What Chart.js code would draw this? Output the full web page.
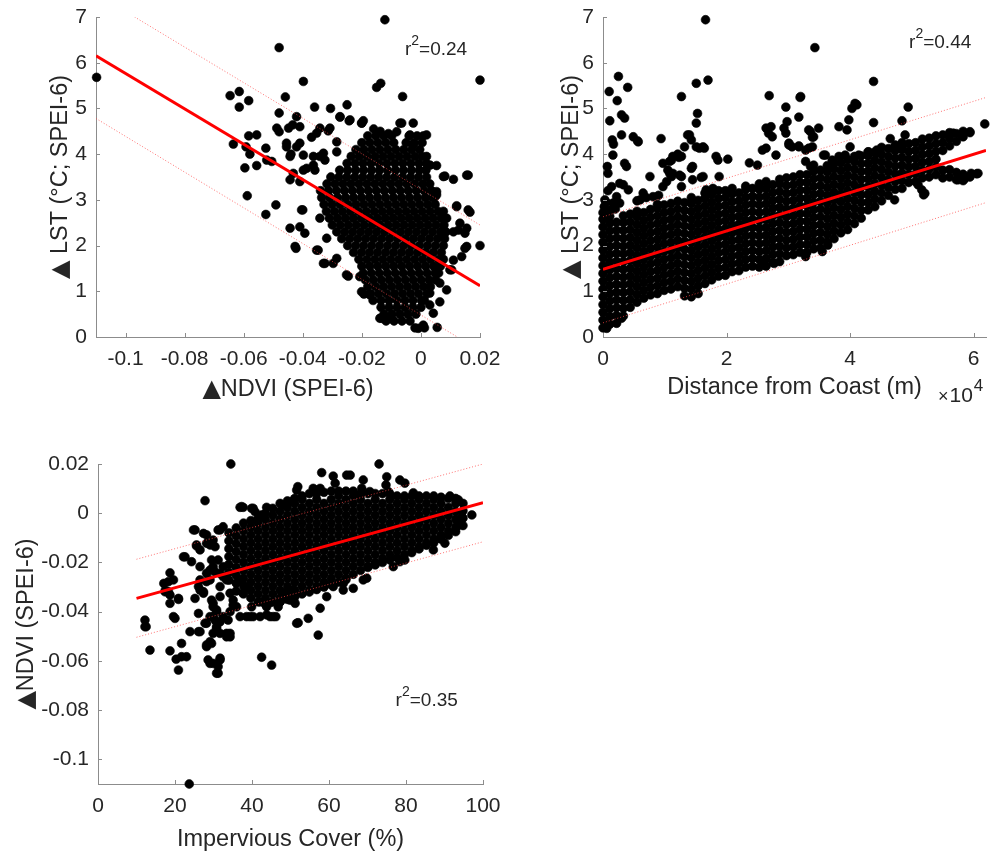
<!DOCTYPE html>
<html>
<head>
<meta charset="utf-8">
<script src="https://cdn.jsdelivr.net/npm/chart.js@4.4.1/dist/chart.umd.min.js"></script>
<style>
html,body{margin:0;padding:0;background:#fff;}
body{width:991px;height:854px;position:relative;overflow:hidden;}
canvas{position:absolute;}
</style>
</head>
<body>
<canvas id="c1" width="500" height="420" style="left:0;top:0;width:500px;height:420px"></canvas>
<canvas id="c2" width="491" height="420" style="left:500px;top:0;width:491px;height:420px"></canvas>
<canvas id="c3" width="500" height="434" style="left:0;top:420px;width:500px;height:434px"></canvas>
<script>
// ---------------- DATA ----------------
// Tick labels
const ndviTicks = [-0.1, -0.08, -0.06, -0.04, -0.02, 0, 0.02];
const lstTicks = [0, 1, 2, 3, 4, 5, 6, 7];
const distanceTicks = [0, 2, 4, 6];            // x 10^4 m
const imperviousTicks = [0, 20, 40, 60, 80, 100];

// Panel 1: ΔNDVI (x) vs ΔLST (y). Dense core as rows: [ΔLST, ΔNDVI, ΔNDVI, ...]
const lstNdviRows = [
[0.20, -0.0020, 0.0012],
[0.35, -0.0118,-0.0091,-0.0064,-0.0037],
[0.50, -0.0125,-0.0098,-0.0071,-0.0044,-0.0017],
[0.65, -0.0135,-0.0108,-0.0081,-0.0054,-0.0027,0.0000],
[0.80, -0.0162,-0.0135,-0.0108,-0.0081,-0.0054,-0.0027,0.0002,0.0012],
[0.95, -0.0170,-0.0143,-0.0116,-0.0089,-0.0062,-0.0035,-0.0008,0.0020],
[1.10, -0.0180,-0.0153,-0.0126,-0.0099,-0.0072,-0.0045,-0.0018,0.0009,0.0032],
[1.25, -0.0188,-0.0161,-0.0134,-0.0107,-0.0080,-0.0053,-0.0026,0.0001,0.0028,0.0050],
[1.40, -0.0195,-0.0168,-0.0141,-0.0114,-0.0087,-0.0060,-0.0033,-0.0006,0.0021,0.0048,0.0060],
[1.55, -0.0200,-0.0173,-0.0146,-0.0119,-0.0092,-0.0065,-0.0038,-0.0011,0.0016,0.0043,0.0066],
[1.70, -0.0210,-0.0183,-0.0156,-0.0129,-0.0102,-0.0075,-0.0048,-0.0021,0.0006,0.0033,0.0060,0.0076],
[1.85, -0.0228,-0.0201,-0.0174,-0.0147,-0.0120,-0.0093,-0.0066,-0.0039,-0.0012,0.0015,0.0042,0.0069],
[2.00, -0.0248,-0.0221,-0.0194,-0.0167,-0.0140,-0.0113,-0.0086,-0.0059,-0.0032,-0.0005,0.0022,0.0049,0.0076],
[2.15, -0.0268,-0.0241,-0.0214,-0.0187,-0.0160,-0.0133,-0.0106,-0.0079,-0.0052,-0.0025,0.0002,0.0029,0.0056,0.0080],
[2.30, -0.0285,-0.0258,-0.0231,-0.0204,-0.0177,-0.0150,-0.0123,-0.0096,-0.0069,-0.0042,-0.0015,0.0012,0.0039,0.0066,0.0085],
[2.45, -0.0300,-0.0273,-0.0246,-0.0219,-0.0192,-0.0165,-0.0138,-0.0111,-0.0084,-0.0057,-0.0030,-0.0003,0.0024,0.0051,0.0078],
[2.60, -0.0310,-0.0283,-0.0256,-0.0229,-0.0202,-0.0175,-0.0148,-0.0121,-0.0094,-0.0067,-0.0040,-0.0013,0.0014,0.0041,0.0068],
[2.75, -0.0320,-0.0293,-0.0266,-0.0239,-0.0212,-0.0185,-0.0158,-0.0131,-0.0104,-0.0077,-0.0050,-0.0023,0.0004,0.0031,0.0058,0.0076],
[2.90, -0.0328,-0.0301,-0.0274,-0.0247,-0.0220,-0.0193,-0.0166,-0.0139,-0.0112,-0.0085,-0.0058,-0.0031,-0.0004,0.0023,0.0048],
[3.05, -0.0336,-0.0309,-0.0282,-0.0255,-0.0228,-0.0201,-0.0174,-0.0147,-0.0120,-0.0093,-0.0066,-0.0039,-0.0012,0.0015,0.0040],
[3.20, -0.0340,-0.0313,-0.0286,-0.0259,-0.0232,-0.0205,-0.0178,-0.0151,-0.0124,-0.0097,-0.0070,-0.0043,-0.0016,0.0011,0.0036],
[3.35, -0.0318,-0.0291,-0.0264,-0.0237,-0.0210,-0.0183,-0.0156,-0.0129,-0.0102,-0.0075,-0.0048,-0.0021,0.0006,0.0030],
[3.50, -0.0305,-0.0278,-0.0251,-0.0224,-0.0197,-0.0170,-0.0143,-0.0116,-0.0089,-0.0062,-0.0035,-0.0008,0.0019],
[3.65, -0.0275,-0.0248,-0.0221,-0.0194,-0.0167,-0.0140,-0.0113,-0.0086,-0.0059,-0.0032,-0.0005,0.0017],
[3.80, -0.0250,-0.0223,-0.0196,-0.0169,-0.0142,-0.0115,-0.0088,-0.0061,-0.0034,-0.0007,0.0018],
[3.95, -0.0236,-0.0209,-0.0182,-0.0155,-0.0128,-0.0101,-0.0074,-0.0047,-0.0020,0.0004],
[4.10, -0.0220,-0.0193,-0.0166,-0.0139,-0.0112,-0.0085,-0.0058,-0.0031,-0.0004],
[4.25, -0.0200,-0.0173,-0.0146,-0.0119,-0.0092,-0.0050,-0.0023,0.0004],
[4.40, -0.0180,-0.0153,-0.0126,-0.0099,-0.0040,-0.0013]
];
// Panel 1 scattered points: [ΔNDVI, ΔLST]
const lstNdviScatter = [
[-0.1098,5.68],[-0.048,6.33],[-0.0122,6.94],[0.02,5.62],[-0.0398,5.59],[-0.015,5.46],[-0.0136,5.55],[-0.0062,5.26],
[-0.0646,5.28],[-0.0615,5.37],[-0.0615,5.03],[-0.0583,5.17],[-0.0459,5.25],[-0.048,4.9],[-0.036,5.03],[-0.0306,5.0],
[-0.025,5.08],[-0.0274,4.81],[-0.0243,4.73],[-0.02,4.68],[-0.0195,4.73],[-0.0421,4.82],[-0.0434,4.64],[-0.041,4.6],
[-0.0488,4.57],[-0.048,4.49],[-0.0448,4.57],[-0.0342,4.57],[-0.0314,4.51],[-0.0071,4.68],[-0.0026,4.68],[-0.0082,4.49],
[-0.0037,4.42],[0.0008,4.4],[-0.0583,4.4],[-0.0556,4.42],[-0.0635,4.22],[-0.0592,4.16],[-0.0579,4.0],[-0.037,4.37],
[-0.0285,4.27],[-0.0455,4.24],[-0.0421,4.16],[-0.0443,3.95],[-0.044,4.0],[-0.0398,3.98],[-0.0525,4.13],[-0.0556,3.75],
[-0.0596,3.7],[-0.0505,3.84],[-0.0522,3.87],[-0.0398,3.65],[-0.0364,3.76],[-0.0342,3.95],[-0.0325,3.87],[-0.041,3.4],
[-0.0432,3.58],[-0.0443,3.44],[-0.0588,3.09],[-0.0491,2.89],[-0.0525,2.68],[-0.04,2.78],[-0.0443,2.38],[-0.041,2.41],
[-0.0393,2.27],[-0.0423,1.94],[-0.0348,1.9],[-0.0319,2.16],[-0.0325,1.61],[-0.0297,1.61],[-0.0285,1.72],[-0.0342,2.6],
[-0.0246,1.33],[-0.0193,0.94],[-0.0133,0.41],[-0.0009,0.19],[0.0008,0.26],[0.0055,0.21],[0.003,0.7],[0.0064,0.77],
[0.0104,1.47],[0.011,1.68],[0.0149,1.94],[0.0138,1.76],[0.02,2.0],[0.0127,2.34],[0.0155,2.38],[0.0149,2.27],
[0.0166,2.73],[0.0121,2.87],[0.016,3.54],[0.011,3.45],[0.0081,3.52],[0.0053,3.18],[0.0048,3.07],[0.0053,3.75],
[0.0019,3.95],[-0.0026,4.2],[0.0087,2.6],[0.0076,2.34],[0.0087,1.03],[0.0064,1.18],[0.003,0.96],
[-0.0353,4.46],[-0.0308,4.57],[-0.0274,4.82],[-0.024,4.75],[-0.0201,4.68],[-0.0455,4.16],[-0.041,4.24],[-0.0364,3.95],
[-0.033,4.02],[-0.0285,4.05],[-0.0387,3.69],[-0.0359,3.65],[-0.0404,2.78],[-0.0426,1.98],[-0.0353,1.9],[-0.033,1.61],
[-0.0252,1.36],[-0.0207,1.32],[-0.0201,0.99],[-0.0173,0.92],[-0.0139,0.41],[-0.0105,0.41],[0.0042,0.52],[0.0098,1.47],
[0.0155,1.98],[0.0121,2.85],[0.016,2.78],[0.0132,2.49],[0.011,2.3],[0.0076,3.51],[0.0155,3.54],[0.0053,3.11],
[0.0031,3.76],[0.0019,4.42],[-0.0065,4.68],[-0.0138,4.5],[-0.0160,4.55],[-0.0110,4.45]
];
const ndviLstFit = [[-0.11, 6.15], [0.02, 1.12]];
const ndviLstUpper = [[-0.11, 7.51], [0.02, 2.45]];
const ndviLstLower = [[-0.11, 4.78], [0.02, -0.30]];

// Panel 2: distance from coast (x, in 10^4 m) vs ΔLST (y). Dense band as columns: [distance, ΔLST, ΔLST, ...]
const lstCoastCols = [
[0.00, 0.20,0.37,0.54,0.71,0.88,1.05,1.22,1.39,1.56,1.73,1.90,2.07,2.24,2.41,2.58,2.72],
[0.11, 0.28,0.45,0.62,0.79,0.96,1.13,1.30,1.47,1.64,1.81,1.98,2.15,2.32,2.49,2.64],
[0.22, 0.30,0.47,0.64,0.81,0.98,1.15,1.32,1.49,1.66,1.83,2.00,2.17,2.34,2.51],
[0.33, 0.46,0.63,0.80,0.97,1.14,1.31,1.48,1.65,1.82,1.99,2.16,2.33,2.50,2.65],
[0.44, 0.65,0.82,0.99,1.16,1.33,1.50,1.67,1.84,2.01,2.18,2.35,2.52,2.69],
[0.55, 0.76,0.93,1.10,1.27,1.44,1.61,1.78,1.95,2.12,2.29,2.46,2.63,2.75],
[0.66, 0.85,1.02,1.19,1.36,1.53,1.70,1.87,2.04,2.21,2.38,2.55,2.72],
[0.77, 0.92,1.09,1.26,1.43,1.60,1.77,1.94,2.11,2.28,2.45,2.62,2.79],
[0.88, 0.95,1.12,1.29,1.46,1.63,1.80,1.97,2.14,2.31,2.48,2.65,2.82,2.90],
[0.99, 1.02,1.19,1.36,1.53,1.70,1.87,2.04,2.21,2.38,2.55,2.72,2.89],
[1.10, 1.05,1.22,1.39,1.56,1.73,1.90,2.07,2.24,2.41,2.58,2.75,2.92],
[1.21, 1.10,1.27,1.44,1.61,1.78,1.95,2.12,2.29,2.46,2.63,2.80,2.97],
[1.32, 0.90,1.07,1.24,1.41,1.58,1.75,1.92,2.09,2.26,2.43,2.60,2.77,2.94],
[1.43, 0.88,1.05,1.22,1.39,1.56,1.73,1.90,2.07,2.24,2.41,2.58,2.75,2.92,3.05],
[1.54, 0.95,1.12,1.29,1.46,1.63,1.80,1.97,2.14,2.31,2.48,2.65,2.82,2.99],
[1.65, 1.17,1.34,1.51,1.68,1.85,2.02,2.19,2.36,2.53,2.70,2.87,3.04,3.15],
[1.76, 1.25,1.42,1.59,1.76,1.93,2.10,2.27,2.44,2.61,2.78,2.95,3.12],
[1.87, 1.33,1.50,1.67,1.84,2.01,2.18,2.35,2.52,2.69,2.86,3.03,3.20],
[1.98, 1.35,1.52,1.69,1.86,2.03,2.20,2.37,2.54,2.71,2.88,3.05,3.20],
[2.09, 1.43,1.60,1.77,1.94,2.11,2.28,2.45,2.62,2.79,2.96,3.13,3.25],
[2.20, 1.45,1.62,1.79,1.96,2.13,2.30,2.47,2.64,2.81,2.98,3.15],
[2.31, 1.53,1.70,1.87,2.04,2.21,2.38,2.55,2.72,2.89,3.06,3.23,3.30],
[2.42, 1.55,1.72,1.89,2.06,2.23,2.40,2.57,2.74,2.91,3.08,3.25],
[2.53, 1.53,1.70,1.87,2.04,2.21,2.38,2.55,2.72,2.89,3.06,3.23,3.35],
[2.64, 1.55,1.72,1.89,2.06,2.23,2.40,2.57,2.74,2.91,3.08,3.25,3.40],
[2.75, 1.63,1.80,1.97,2.14,2.31,2.48,2.65,2.82,2.99,3.16,3.33],
[2.86, 1.65,1.82,1.99,2.16,2.33,2.50,2.67,2.84,3.01,3.18,3.35,3.45],
[2.97, 1.78,1.95,2.12,2.29,2.46,2.63,2.80,2.97,3.14,3.31,3.48],
[3.08, 1.80,1.97,2.14,2.31,2.48,2.65,2.82,2.99,3.16,3.33,3.50],
[3.19, 1.85,2.02,2.19,2.36,2.53,2.70,2.87,3.04,3.21,3.38,3.55],
[3.30, 1.85,2.02,2.19,2.36,2.53,2.70,2.87,3.04,3.21,3.38,3.55],
[3.41, 1.93,2.10,2.27,2.44,2.61,2.78,2.95,3.12,3.29,3.46,3.63],
[3.52, 1.95,2.12,2.29,2.46,2.63,2.80,2.97,3.14,3.31,3.48,3.65],
[3.63, 2.08,2.25,2.42,2.59,2.76,2.93,3.10,3.27,3.44,3.61,3.75],
[3.74, 2.15,2.32,2.49,2.66,2.83,3.00,3.17,3.34,3.51,3.68,3.80],
[3.85, 2.28,2.45,2.62,2.79,2.96,3.13,3.30,3.47,3.64,3.81],
[3.96, 2.35,2.52,2.69,2.86,3.03,3.20,3.37,3.54,3.71,3.88],
[4.07, 2.48,2.65,2.82,2.99,3.16,3.33,3.50,3.67,3.84,3.95],
[4.18, 2.60,2.77,2.94,3.11,3.28,3.45,3.62,3.79,3.96],
[4.29, 2.78,2.95,3.12,3.29,3.46,3.63,3.80,3.97,4.05],
[4.40, 2.85,3.02,3.19,3.36,3.53,3.70,3.87,4.04],
[4.51, 2.98,3.15,3.32,3.49,3.66,3.83,4.00,4.15],
[4.62, 3.10,3.27,3.44,3.61,3.78,3.95,4.12],
[4.73, 3.23,3.40,3.57,3.74,3.91,4.08,4.20],
[4.84, 3.25,3.42,3.59,3.76,3.93,4.10,4.25],
[4.95, 3.38,3.55,3.72,3.89,4.06,4.23],
[5.06, 3.40,3.57,3.74,3.91,4.08,4.25],
[5.17, 3.48,3.65,3.82,3.99,4.16,4.33],
[5.28, 3.50,3.67,3.84,4.01,4.18,4.35],
[5.39, 3.55,3.72,3.89,4.06,4.23,4.40],
[5.50, 3.48,3.65,4.08,4.25,4.42],
[5.61, 3.50,3.66,4.18,4.35,4.47],
[5.72, 3.44,3.60,4.28,4.45],
[5.83, 3.42,3.56,4.38,4.50],
[5.94, 3.50,4.47],
[6.05, 3.57]
];
// Panel 2 scattered points: [distance (10^4 m), ΔLST]
const lstCoastScatter = [
[1.66,6.94],[3.43,6.33],[0.25,5.70],[0.10,5.37],[0.40,5.46],[0.23,5.17],[0.11,4.73],[0.30,4.86],[0.35,4.79],[0.30,4.42],
[0.15,4.31],[0.17,4.22],[0.16,3.98],[0.07,3.73],[0.08,3.58],[0.35,3.80],[0.38,3.73],[0.49,4.38],[0.56,4.29],[0.41,3.22],
[0.27,3.36],[0.22,3.07],[0.03,3.00],[0.16,2.93],[0.60,3.00],[0.81,3.07],[0.94,4.34],[0.97,3.80],[1.08,3.84],[1.05,3.65],
[1.27,5.26],[1.51,5.55],[1.70,5.62],[1.53,4.89],[1.51,4.68],[1.40,4.42],[1.43,4.31],[1.51,4.16],[1.56,4.13],[1.62,4.16],
[1.32,4.16],[1.27,3.95],[1.13,3.95],[1.21,4.00],[1.45,3.73],[1.45,3.44],[1.62,3.51],[1.83,3.95],[1.86,3.87],[2.02,3.89],
[1.88,3.51],[1.67,3.22],[1.78,3.25],[0.76,3.51],[0.97,3.29],[1.13,3.58],[1.27,3.51],[1.27,3.29],[1.03,3.40],[1.24,3.54],
[1.43,3.69],[1.59,3.49],[2.37,3.81],[2.50,3.76],[2.69,5.28],[2.64,4.57],[2.68,4.46],[2.74,4.38],[2.72,4.60],[2.64,4.13],
[2.58,4.09],[2.80,3.98],[2.96,5.03],[2.98,4.71],[2.93,4.57],[2.96,4.46],[3.01,4.20],[3.06,4.16],[3.17,4.81],[3.20,5.26],
[3.17,4.16],[3.28,4.09],[3.36,4.49],[3.41,4.38],[3.49,4.57],[3.39,4.16],[3.28,3.84],[3.41,3.76],[3.36,3.73],[3.60,3.98],
[3.71,3.87],[3.82,4.60],[3.98,4.75],[3.95,4.53],[4.03,5.00],[4.11,5.08],[4.38,5.59],[4.38,4.69],[4.84,4.73],[4.94,5.03],
[4.89,4.42],[4.65,4.34],[3.92,3.98],[4.14,3.98],[4.30,4.05],[4.43,4.02],[6.18,4.66],[5.94,4.49],[5.80,4.42],[5.67,4.46],
[6.07,3.58],[5.96,3.58],[5.86,3.47],[5.75,3.44],[5.16,3.22],[5.21,3.14],[5.19,3.11],[5.10,3.33],[4.72,3.00],[3.64,2.01],
[3.55,1.87],[3.28,1.76],[2.61,1.58],[2.77,1.61],[0.25,0.41],[0.30,0.41],[0.06,0.19],[0.14,3.29],[0.33,3.33],[0.27,2.93],
[0.57,4.27],[1.37,4.42],[1.64,4.13],[1.23,3.93],[1.11,3.87],[1.08,3.58],[1.11,3.51],[0.08,3.20],[0.05,2.95],[0.20,2.80],
[3.19,5.24],[4.08,5.11],[4.73,4.09],[4.84,4.13],[4.00,4.16],[3.57,3.98],[3.82,3.95],[4.43,4.09],[3.33,4.53],[3.39,4.37],
[3.01,4.24],[3.17,4.18],[3.33,4.13],[0.02,2.85],[0.12,2.78],[0.55,2.98],[0.70,3.05],[0.90,3.10],[0.65,3.15]
];
const coastLstFit = [[0, 1.48], [6.2, 4.08]];
const coastLstUpper = [[0, 2.63], [6.2, 5.24]];
const coastLstLower = [[0, 0.31], [6.2, 2.94]];

// Panel 3: impervious cover (x, %) vs ΔNDVI (y). Dense band as columns: [cover, ΔNDVI, ΔNDVI, ...]
const ndviImperviousCols = [
[34.0, -0.0080,-0.0112,-0.0144,-0.0176,-0.0208,-0.0240,-0.0272],
[35.9, -0.0060,-0.0092,-0.0124,-0.0156,-0.0188,-0.0220,-0.0252,-0.0284,-0.0316],
[37.8, -0.0040,-0.0072,-0.0104,-0.0136,-0.0168,-0.0200,-0.0232,-0.0264,-0.0296,-0.0328],
[39.7, -0.0030,-0.0056,-0.0088,-0.0120,-0.0152,-0.0184,-0.0216,-0.0248,-0.0280,-0.0312,-0.0344],
[41.6, -0.0020,-0.0040,-0.0072,-0.0104,-0.0136,-0.0168,-0.0200,-0.0232,-0.0264,-0.0296,-0.0328,-0.0360],
[43.5, 0.0000,-0.0024,-0.0056,-0.0088,-0.0120,-0.0152,-0.0184,-0.0216,-0.0248,-0.0280,-0.0312,-0.0344,-0.0370],
[45.4, 0.0020,-0.0008,-0.0040,-0.0072,-0.0104,-0.0136,-0.0168,-0.0200,-0.0232,-0.0264,-0.0296,-0.0328,-0.0360],
[47.3, 0.0040,0.0008,-0.0024,-0.0056,-0.0088,-0.0120,-0.0152,-0.0184,-0.0216,-0.0248,-0.0280,-0.0312,-0.0344,-0.0360],
[49.2, 0.0050,0.0024,-0.0008,-0.0040,-0.0072,-0.0104,-0.0136,-0.0168,-0.0200,-0.0232,-0.0264,-0.0296,-0.0328,-0.0350],
[51.1, 0.0060,0.0040,0.0008,-0.0024,-0.0056,-0.0088,-0.0120,-0.0152,-0.0184,-0.0216,-0.0248,-0.0280,-0.0312,-0.0340],
[53.0, 0.0070,0.0056,0.0024,-0.0008,-0.0040,-0.0072,-0.0104,-0.0136,-0.0168,-0.0200,-0.0232,-0.0264,-0.0296,-0.0328],
[54.9, 0.0080,0.0040,0.0008,-0.0024,-0.0056,-0.0088,-0.0120,-0.0152,-0.0184,-0.0216,-0.0248,-0.0280,-0.0312,-0.0320],
[56.8, 0.0080,0.0056,0.0024,-0.0008,-0.0040,-0.0072,-0.0104,-0.0136,-0.0168,-0.0200,-0.0232,-0.0264,-0.0296,-0.0310],
[58.7, 0.0085,0.0040,0.0008,-0.0024,-0.0056,-0.0088,-0.0120,-0.0152,-0.0184,-0.0216,-0.0248,-0.0280,-0.0300],
[60.6, 0.0090,0.0056,0.0024,-0.0008,-0.0040,-0.0072,-0.0104,-0.0136,-0.0168,-0.0200,-0.0232,-0.0264,-0.0290],
[62.5, 0.0090,0.0072,0.0040,0.0008,-0.0024,-0.0056,-0.0088,-0.0120,-0.0152,-0.0184,-0.0216,-0.0248,-0.0280],
[64.4, 0.0090,0.0056,0.0024,-0.0008,-0.0040,-0.0072,-0.0104,-0.0136,-0.0168,-0.0200,-0.0232,-0.0264,-0.0270],
[66.3, 0.0090,0.0072,0.0040,0.0008,-0.0024,-0.0056,-0.0088,-0.0120,-0.0152,-0.0184,-0.0216,-0.0248],
[68.2, 0.0080,0.0056,0.0024,-0.0008,-0.0040,-0.0072,-0.0104,-0.0136,-0.0168,-0.0200,-0.0232],
[70.1, 0.0080,0.0040,0.0008,-0.0024,-0.0056,-0.0088,-0.0120,-0.0152,-0.0184,-0.0216,-0.0220],
[72.0, 0.0080,0.0056,0.0024,-0.0008,-0.0040,-0.0072,-0.0104,-0.0136,-0.0168,-0.0200,-0.0210],
[73.9, 0.0080,0.0040,0.0008,-0.0024,-0.0056,-0.0088,-0.0120,-0.0152,-0.0184,-0.0200],
[75.8, 0.0080,0.0056,0.0024,-0.0008,-0.0040,-0.0072,-0.0104,-0.0136,-0.0168,-0.0190],
[77.7, 0.0070,0.0040,0.0008,-0.0024,-0.0056,-0.0088,-0.0120,-0.0152,-0.0180],
[79.6, 0.0070,0.0056,0.0024,-0.0008,-0.0040,-0.0072,-0.0104,-0.0136,-0.0168],
[81.5, 0.0070,0.0040,0.0008,-0.0024,-0.0056,-0.0088,-0.0120,-0.0152,-0.0160],
[83.4, 0.0070,0.0056,0.0024,-0.0008,-0.0040,-0.0072,-0.0104,-0.0136,-0.0145],
[85.3, 0.0070,0.0040,0.0008,-0.0024,-0.0056,-0.0088,-0.0120,-0.0130],
[87.2, 0.0070,0.0056,0.0024,-0.0008,-0.0040,-0.0072,-0.0104,-0.0120],
[89.1, 0.0065,0.0040,0.0008,-0.0024,-0.0056,-0.0088,-0.0105],
[91.0, 0.0060,0.0024,-0.0008,-0.0040,-0.0072,-0.0090],
[92.9, 0.0060,0.0040,0.0008,-0.0024,-0.0056,-0.0075],
[94.8, 0.0040,0.0010,-0.0020,-0.0050]
];
// Panel 3 scattered points: [impervious cover (%), ΔNDVI]
const ndviImperviousScatter = [
[23.7,-0.11],[34.5,0.02],[73.0,0.02],[58.1,0.0165],[61.1,0.0151],[64.6,0.0155],[65.5,0.0155],[75.0,0.0148],[74.8,0.0115],
[75.4,0.0088],[68.9,0.0135],[68.5,0.0101],[61.6,0.0122],[78.4,0.0135],[79.7,0.0122],[51.9,0.0108],[51.6,0.0094],[55.9,0.0101],
[57.7,0.0101],[70.6,0.0088],[81.9,0.0083],[91.4,0.007],[93.6,0.0054],[27.8,0.0051],[36.9,0.0024],[37.7,0.0024],[40.3,0.002],
[43.8,0.0024],[42.5,-0.0007],[97.1,-0.0007],[24.8,-0.0068],[27.4,-0.0082],[28.2,-0.0088],[31.7,-0.0068],[32.5,-0.0055],
[25.6,-0.0133],[29.1,-0.0129],[22.6,-0.0177],[24.3,-0.0197],[18.7,-0.0242],[18.3,-0.0278],[17.4,-0.0319],[18.7,-0.0332],
[20.9,-0.035],[18.7,-0.0366],[19.6,-0.042],[20.0,-0.0427],[12.2,-0.0434],[12.2,-0.0461],[13.5,-0.0556],[18.7,-0.0559],
[20.3,-0.0593],[20.9,-0.0637],[21.7,-0.0583],[23.0,-0.0583],[26.1,-0.0407],[27.8,-0.0447],[26.5,-0.0481],[23.9,-0.0481],
[28.2,-0.0542],[29.5,-0.0529],[28.6,-0.0596],[29.9,-0.061],[31.2,-0.065],[31.7,-0.0589],[29.9,-0.0366],[30.8,-0.0393],
[29.9,-0.042],[30.8,-0.0461],[31.7,-0.0488],[33.4,-0.0488],[34.3,-0.0502],[33.8,-0.0434],[26.5,-0.0312],[27.4,-0.0325],
[29.1,-0.0271],[28.2,-0.0244],[29.9,-0.0217],[26.5,-0.0217],[31.7,-0.0298],[32.5,-0.0258],[33.4,-0.0271],[34.3,-0.0325],
[35.1,-0.0353],[36.0,-0.038],[42.5,-0.0585],[45.1,-0.0617],[52.0,-0.0445],[54.6,-0.0427],[57.2,-0.0495],[57.7,-0.0386],
[36.9,-0.042],[39.5,-0.042],[42.1,-0.042],[44.7,-0.042],[46.2,-0.042],[39.9,-0.038],[42.1,-0.036],[43.8,-0.038],
[44.7,-0.0363],[47.3,-0.036],[48.1,-0.0325],[49.9,-0.0353],[50.7,-0.0312],[37.7,-0.0325],[38.6,-0.0298],[37.3,-0.0278],
[63.7,-0.0312],[66.3,-0.0305],[68.9,-0.0271],[69.8,-0.0264],[63.7,-0.0285],[59.4,-0.0339],[61.1,-0.0298],[76.7,-0.0217],
[78.4,-0.0197],[79.7,-0.019],[87.1,-0.0149],[90.1,-0.0122],[93.2,-0.0055],[94.0,-0.0027],[94.5,-0.0014],[25.2,-0.0068],
[31.2,-0.0068],[22.2,-0.0177],[25.6,-0.0129],[26.5,-0.0149],[28.2,-0.0122],[29.9,-0.0109],[30.4,-0.0136],[17.1,-0.0285],
[17.5,-0.0312],[20.9,-0.0346],[12.5,-0.0461],[21.7,-0.0529],[25.2,-0.0346],[26.1,-0.0481],[29.1,-0.061],[30.8,-0.065],
[31.7,-0.0596],[31.2,-0.0623],[28.2,-0.0535],[29.1,-0.0522],[29.9,-0.0488],[30.8,-0.0468],[33.4,-0.0502],[34.3,-0.0488],
[28.2,-0.0447],[29.1,-0.042],[30.4,-0.0434],[31.7,-0.0441],[32.5,-0.042],[30.8,-0.04],[29.9,-0.038],[29.5,-0.0353],
[31.7,-0.0339],[26.1,-0.0298],[27.4,-0.0319],[26.5,-0.0271],[28.2,-0.0278],[29.1,-0.0231],[30.4,-0.0238],[31.7,-0.0244],
[29.5,-0.019],[31.2,-0.019],[32.5,-0.0217],[18.3,-0.0319],[19.6,-0.0271],[51.6,-0.0447],[43.8,-0.0413],[45.5,-0.042],
[38.6,-0.042],[40.3,-0.042],[35.1,-0.0373],[34.3,-0.04],[46.8,-0.038],[51.2,-0.0366],[50.7,-0.0325],[37.3,0.0027],
[39.9,0.002],[40.8,0.0006],[48.1,0.0033],[50.3,0.0047]
];
const imperviousNdviFit = [[10, -0.0346], [100, 0.0043]];
const imperviousNdviUpper = [[10, -0.0187], [100, 0.0200]];
const imperviousNdviLower = [[10, -0.0504], [100, -0.0116]];

// ---------------- STYLE ----------------
const FONT = "'Liberation Sans', Arial, Helvetica, 'DejaVu Sans', sans-serif";
const TRI_FONT = "24px 'DejaVu Sans', sans-serif";
const TITLE_CSS = "23.5px " + FONT;
const AXIS_COLOR = '#8c8c8c';
const TEXT_COLOR = '#262626';
const TICK_FONT = {family: FONT, size: 21};

function rowsToPoints(rows) {
  const pts = [];
  rows.forEach(r => { for (let i = 1; i < r.length; i++) pts.push({x: r[i], y: r[0]}); });
  return pts;
}
function colsToPoints(cols) {
  const pts = [];
  cols.forEach(c => { for (let i = 1; i < c.length; i++) pts.push({x: c[0], y: c[i]}); });
  return pts;
}
function pairsToPoints(pairs) { return pairs.map(p => ({x: p[0], y: p[1]})); }
function fmt(v) { return String(+Number(v).toFixed(4)); }

// draws a title whose leading "▲" uses a larger symbol font, centred on cx at baseline by
function drawTitleText(ctx, str, cx, by) {
  const parts = [];
  if (str.charAt(0) === '\u25B2') { parts.push({t: '\u25B2', f: TRI_FONT}); str = str.slice(1); }
  parts.push({t: str, f: TITLE_CSS});
  let total = 0;
  parts.forEach(p => { ctx.font = p.f; p.w = ctx.measureText(p.t).width; total += p.w; });
  let x = cx - total / 2;
  parts.forEach(p => { ctx.font = p.f; ctx.fillText(p.t, x, by); x += p.w; });
}

function buildChart(canvasId, spec) {
  const decor = {
    id: 'matlabDecor',
    afterDraw(chart) {
      const ctx = chart.ctx;
      const xs = chart.scales.x, ys = chart.scales.y;
      const ca = chart.chartArea;
      ctx.save();
      // inward tick marks (MATLAB style)
      ctx.strokeStyle = AXIS_COLOR;
      ctx.lineWidth = 1;
      xs.ticks.forEach(t => {
        const px = Math.round(xs.getPixelForValue(t.value)) + 0.5;
        ctx.beginPath(); ctx.moveTo(px, ca.bottom); ctx.lineTo(px, ca.bottom - 4); ctx.stroke();
      });
      ys.ticks.forEach(t => {
        const py = Math.round(ys.getPixelForValue(t.value)) + 0.5;
        ctx.beginPath(); ctx.moveTo(ca.left, py); ctx.lineTo(ca.left + 4, py); ctx.stroke();
      });
      ctx.fillStyle = TEXT_COLOR;
      ctx.textBaseline = 'alphabetic';
      ctx.textAlign = 'left';
      // axis titles
      drawTitleText(ctx, spec.xTitle, (ca.left + ca.right) / 2, ca.bottom + spec.xTitleBaseline);
      ctx.save();
      ctx.translate(spec.yTitleBaselineX, (ca.top + ca.bottom) / 2);
      ctx.rotate(-Math.PI / 2);
      drawTitleText(ctx, spec.yTitle, 0, 0);
      ctx.restore();
      // r^2 annotation
      const x0 = xs.getPixelForValue(spec.r2.x), y0 = ys.getPixelForValue(spec.r2.y);
      ctx.font = '19px ' + FONT;
      ctx.fillText('r', x0, y0);
      let w = ctx.measureText('r').width;
      ctx.font = '14px ' + FONT;
      ctx.fillText('2', x0 + w, y0 - 10);
      w += ctx.measureText('2').width;
      ctx.font = '19px ' + FONT;
      ctx.fillText('=' + spec.r2.text, x0 + w, y0);
      // exponent label
      if (spec.exponent) {
        const bx = ca.right - 48, by = ca.bottom + 65;
        ctx.font = '18px ' + FONT;
        ctx.fillText('\u00D7', bx, by);
        let ew = ctx.measureText('\u00D7').width + 1;
        ctx.font = '21px ' + FONT;
        ctx.fillText('10', bx + ew, by);
        ew += ctx.measureText('10').width + 1;
        ctx.font = '17px ' + FONT;
        ctx.fillText(spec.exponent, bx + ew, by - 11);
      }
      ctx.restore();
    }
  };
  const lineDs = (data, color, width, dash) => ({
    type: 'line', data: pairsToPoints(data), borderColor: color, borderWidth: width,
    borderDash: dash, pointRadius: 0, fill: false, order: 0, tension: 0
  });
  return new Chart(document.getElementById(canvasId), {
    type: 'scatter',
    data: {
      datasets: [
        lineDs(spec.fit, '#ff0000', 3, []),
        lineDs(spec.upper, 'rgba(255,70,70,0.75)', 1, [1, 2]),
        lineDs(spec.lower, 'rgba(255,70,70,0.75)', 1, [1, 2]),
        { type: 'scatter', data: spec.points, backgroundColor: '#000', borderColor: '#000',
          borderWidth: 0.6, pointRadius: 4.4, order: 1, clip: 12 }
      ]
    },
    options: {
      responsive: false, animation: false, events: [], devicePixelRatio: 1,
      layout: { padding: spec.padding },
      plugins: { legend: { display: false }, tooltip: { enabled: false } },
      scales: {
        x: {
          type: 'linear', min: spec.xMin, max: spec.xMax,
          afterBuildTicks: s => { s.ticks = spec.xTicks.map(v => ({ value: v })); },
          afterFit: s => { s.height = spec.xAxisHeight; s.paddingLeft = 0; s.paddingRight = 0; },
          ticks: { callback: v => fmt(v), font: TICK_FONT, color: TEXT_COLOR, padding: 10, maxRotation: 0, autoSkip: false },
          grid: { display: false, drawTicks: false },
          border: { display: true, color: AXIS_COLOR, width: 1 },
          title: { display: false }
        },
        y: {
          type: 'linear', min: spec.yMin, max: spec.yMax,
          afterBuildTicks: s => { s.ticks = spec.yTicks.map(v => ({ value: v })); },
          afterFit: s => { s.width = spec.yAxisWidth; s.paddingTop = 0; s.paddingBottom = 0; },
          ticks: { callback: v => fmt(v), font: TICK_FONT, color: TEXT_COLOR, padding: 9, autoSkip: false },
          grid: { display: false, drawTicks: false },
          border: { display: true, color: AXIS_COLOR, width: 1 },
          title: { display: false }
        }
      }
    },
    plugins: [decor]
  });
}

buildChart('c1', {
  points: rowsToPoints(lstNdviRows).concat(pairsToPoints(lstNdviScatter)),
  fit: ndviLstFit, upper: ndviLstUpper, lower: ndviLstLower,
  xMin: -0.11, xMax: 0.02, xTicks: ndviTicks,
  yMin: 0, yMax: 7, yTicks: lstTicks,
  padding: { left: 0, top: 17, right: 20, bottom: 0 },
  xAxisHeight: 83, yAxisWidth: 96,
  xTitleBaseline: 59, yTitleBaselineX: 67,
  xTitle: '\u25B2NDVI (SPEI-6)', yTitle: '\u25B2 LST (\u00B0C; SPEI-6)',
  r2: { x: -0.0054, y: 6.17, text: '0.24' }
});

buildChart('c2', {
  points: colsToPoints(lstCoastCols).concat(pairsToPoints(lstCoastScatter)),
  fit: coastLstFit, upper: coastLstUpper, lower: coastLstLower,
  xMin: 0, xMax: 6.2, xTicks: distanceTicks,
  yMin: 0, yMax: 7, yTicks: lstTicks,
  padding: { left: 0, top: 17, right: 3, bottom: 0 },
  xAxisHeight: 83, yAxisWidth: 103,
  xTitleBaseline: 57, yTitleBaselineX: 78,
  xTitle: 'Distance from Coast (m)', yTitle: '\u25B2 LST (\u00B0C; SPEI-6)',
  r2: { x: 4.955, y: 6.32, text: '0.44' },
  exponent: '4'
});

buildChart('c3', {
  points: colsToPoints(ndviImperviousCols).concat(pairsToPoints(ndviImperviousScatter)),
  fit: imperviousNdviFit, upper: imperviousNdviUpper, lower: imperviousNdviLower,
  xMin: 0, xMax: 100, xTicks: imperviousTicks,
  yMin: -0.11, yMax: 0.02, yTicks: ndviTicks,
  padding: { left: 0, top: 44, right: 17, bottom: 0 },
  xAxisHeight: 70, yAxisWidth: 98,
  xTitleBaseline: 62, yTitleBaselineX: 33,
  xTitle: 'Impervious Cover (%)', yTitle: '\u25B2NDVI (SPEI-6)',
  r2: { x: 77.3, y: -0.0782, text: '0.35' }
});
</script>
</body>
</html>
